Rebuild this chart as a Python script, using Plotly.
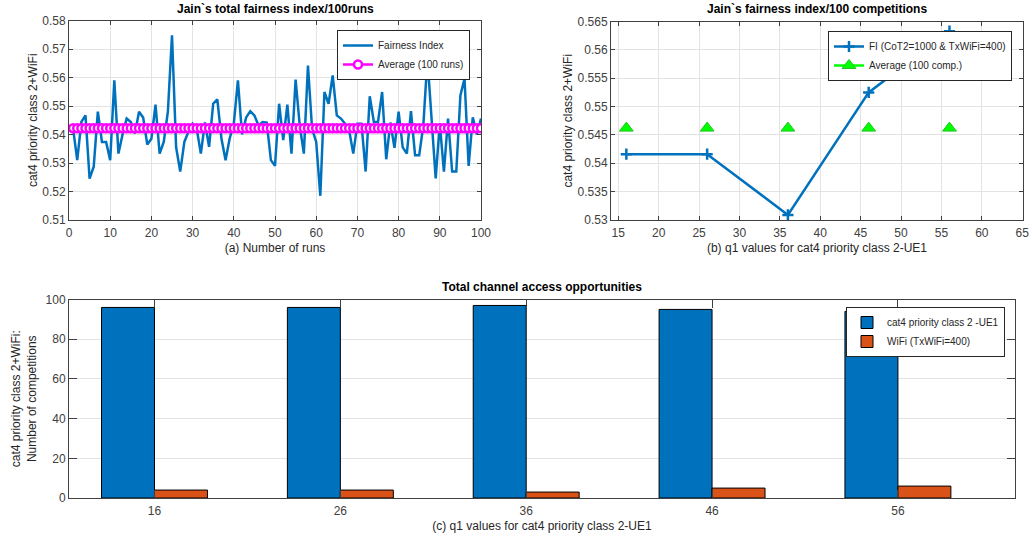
import plotly.graph_objects as go

# ---------------- data ----------------
runs = list(range(1, 101))
fairness_index = [
    0.5420, 0.5310, 0.5444, 0.5467, 0.5245, 0.5287, 0.5480, 0.5374, 0.5374, 0.5310,
    0.5590, 0.5333, 0.5400, 0.5456, 0.5444, 0.5403, 0.5480, 0.5460, 0.5365, 0.5385,
    0.5505, 0.5333, 0.5374, 0.5480, 0.5748, 0.5355, 0.5270, 0.5374, 0.5410, 0.5438,
    0.5420, 0.5333, 0.5442, 0.5357, 0.5508, 0.5523, 0.5386, 0.5310, 0.5386, 0.5438,
    0.5590, 0.5400, 0.5460, 0.5482, 0.5467, 0.5432, 0.5444, 0.5442, 0.5310, 0.5290,
    0.5508, 0.5380, 0.5505, 0.5333, 0.5593, 0.5432, 0.5333, 0.5642, 0.5420, 0.5374,
    0.5185, 0.5549, 0.5508, 0.5607, 0.5467, 0.5456, 0.5438, 0.5415, 0.5333, 0.5438,
    0.5438, 0.5270, 0.5534, 0.5444, 0.5444, 0.5549, 0.5313, 0.5442, 0.5353, 0.5480,
    0.5355, 0.5333, 0.5482, 0.5327, 0.5327, 0.5432, 0.5666, 0.5467, 0.5246, 0.5438,
    0.5270, 0.5456, 0.5270, 0.5270, 0.5537, 0.5596, 0.5290, 0.5460, 0.5400, 0.5456,
]
avg_runs_value = 0.5422

q1_values = [16, 26, 36, 46, 56]
fi_comp = [0.5416, 0.5416, 0.5309, 0.5525, 0.5633]
avg_comp = [0.5462, 0.5462, 0.5462, 0.5462, 0.5462]

cat4_counts = [96, 96, 97, 95, 94]
wifi_counts = [4, 4, 3, 5, 6]

# ---------------- styling ----------------
W, H = 1032, 545
BLUE = "#0072BD"
ORANGE = "#D95319"
AXC = "#262626"
GRID = "#e3e3e3"
FONT = "Liberation Sans, Arial, sans-serif"


def dx(a, b):
    return [a / W, b / W]


def dy(top, bottom):
    return [1 - bottom / H, 1 - top / H]


fig = go.Figure()

# (a) fairness index over runs
fig.add_trace(go.Scatter(
    x=runs, y=fairness_index, mode="lines", name="Fairness Index",
    line=dict(color=BLUE, width=2.5), xaxis="x", yaxis="y", legend="legend",
))
fig.add_trace(go.Scatter(
    x=runs, y=[avg_runs_value] * len(runs), mode="lines+markers", name="Average (100 runs)",
    line=dict(color="#FF00FF", width=2.5),
    marker=dict(symbol="circle", size=8, color="white", line=dict(color="#FF00FF", width=2.5)),
    xaxis="x", yaxis="y", legend="legend",
))

# (b) fairness index per q1
fig.add_trace(go.Scatter(
    x=q1_values, y=fi_comp, mode="lines+markers", name="FI (CoT2=1000 & TxWiFi=400)",
    line=dict(color=BLUE, width=2.5),
    marker=dict(symbol="cross-thin", size=8, color=BLUE, line=dict(color=BLUE, width=2.5)),
    xaxis="x2", yaxis="y2", legend="legend2",
))
avg_x, avg_y = [], []
for xv, yv in zip(q1_values, avg_comp):
    avg_x += [xv, None]
    avg_y += [yv, None]
fig.add_trace(go.Scatter(
    x=avg_x, y=avg_y, mode="lines+markers", name="Average (100 comp.)",
    line=dict(color="#00FF00", width=2.5), connectgaps=False,
    marker=dict(symbol="triangle-up", size=12, color="#00FF00", line=dict(color="#22c422", width=1)),
    xaxis="x2", yaxis="y2", legend="legend2",
))

# (c) bars
fig.add_trace(go.Bar(
    x=q1_values, y=cat4_counts, name="cat4 priority class 2 -UE1",
    marker=dict(color=BLUE, line=dict(color="black", width=1)),
    xaxis="x3", yaxis="y3", legend="legend3",
))
fig.add_trace(go.Bar(
    x=q1_values, y=wifi_counts, name="WiFi (TxWiFi=400)",
    marker=dict(color=ORANGE, line=dict(color="black", width=1)),
    xaxis="x3", yaxis="y3", legend="legend3",
))

tickfont = dict(family=FONT, size=12, color="#404040")
titlefont = dict(family=FONT, size=12, color=AXC)

common = dict(
    showline=True, linecolor="#404040", linewidth=1, mirror="ticks",
    ticks="inside", tickcolor="#404040", tickfont=tickfont, zeroline=False,
    automargin=False,
)

legend_common = dict(
    xanchor="right", yanchor="top", bgcolor="white", bordercolor=AXC, borderwidth=1,
    font=dict(family=FONT, size=10, color=AXC), tracegroupgap=0, itemwidth=30,
)

title_font = dict(family=FONT, size=12, color="black")

fig.update_layout(
    width=W, height=H,
    margin=dict(l=0, r=0, t=0, b=0),
    paper_bgcolor="white", plot_bgcolor="white",
    font=dict(family=FONT, color=AXC),
    barmode="group", bargap=0.43, bargroupgap=0,
    xaxis=dict(domain=dx(69, 481), range=[0, 100], dtick=10, ticklen=4, ticklabelstandoff=2,
               showgrid=True, gridcolor=GRID, anchor="y",
               title=dict(text="(a) Number of runs", font=titlefont, standoff=4), **common),
    yaxis=dict(domain=dy(20.5, 220), range=[0.51, 0.58], dtick=0.01, tickformat=".2f", ticklen=4,
               showgrid=True, gridcolor=GRID, anchor="x",
               title=dict(text="cat4 priority class 2+WiFi", font=titlefont, standoff=2), **common),
    xaxis2=dict(domain=dx(611, 1023), range=[14.1, 65.1], tickvals=[15, 20, 25, 30, 35, 40, 45, 50, 55, 60, 65],
                ticklen=4, ticklabelstandoff=2,
                showgrid=True, gridcolor=GRID, anchor="y2",
                title=dict(text="(b) q1 values for cat4 priority class 2-UE1", font=titlefont, standoff=4), **common),
    yaxis2=dict(domain=dy(21.5, 220), range=[0.53, 0.565], dtick=0.005, ticklen=4,
                showgrid=True, gridcolor=GRID, anchor="x2",
                title=dict(text="cat4 priority class 2+WiFi", font=titlefont, standoff=2), **common),
    xaxis3=dict(domain=dx(69, 1015), range=[11.4, 62.3], tickvals=q1_values, ticklen=8, ticklabelstandoff=2,
                showgrid=False, anchor="y3",
                title=dict(text="(c) q1 values for cat4 priority class 2-UE1", font=titlefont, standoff=4), **common),
    yaxis3=dict(domain=dy(299.5, 498), range=[0, 100], dtick=20, ticklen=8,
                showgrid=True, gridcolor=GRID, anchor="x3",
                title=dict(text="cat4 priority class 2+WiFi:<br>Number of competitions", font=titlefont, standoff=6), **common),
    legend=dict(x=470 / W, y=1 - 30 / H, **legend_common),
    legend2=dict(x=1012 / W, y=1 - 31 / H, **legend_common),
    legend3=dict(x=1005 / W, y=1 - 307 / H, **legend_common),
    annotations=[
        dict(text="<b>Jain`s total fairness index/100runs</b>", x=(69 + 481) / 2 / W, y=1 - 9 / H,
             xref="paper", yref="paper", xanchor="center", yanchor="middle", showarrow=False, font=title_font),
        dict(text="<b>Jain`s fairness index/100 competitions</b>", x=(611 + 1023) / 2 / W, y=1 - 9 / H,
             xref="paper", yref="paper", xanchor="center", yanchor="middle", showarrow=False, font=title_font),
        dict(text="<b>Total channel access opportunities</b>", x=(69 + 1015) / 2 / W, y=1 - 287 / H,
             xref="paper", yref="paper", xanchor="center", yanchor="middle", showarrow=False, font=title_font),
    ],
)

fig.write_html(
    "out.html",
    config={"displayModeBar": False},
    post_script="document.body.style.margin='0';document.body.style.overflow='hidden';",
)
